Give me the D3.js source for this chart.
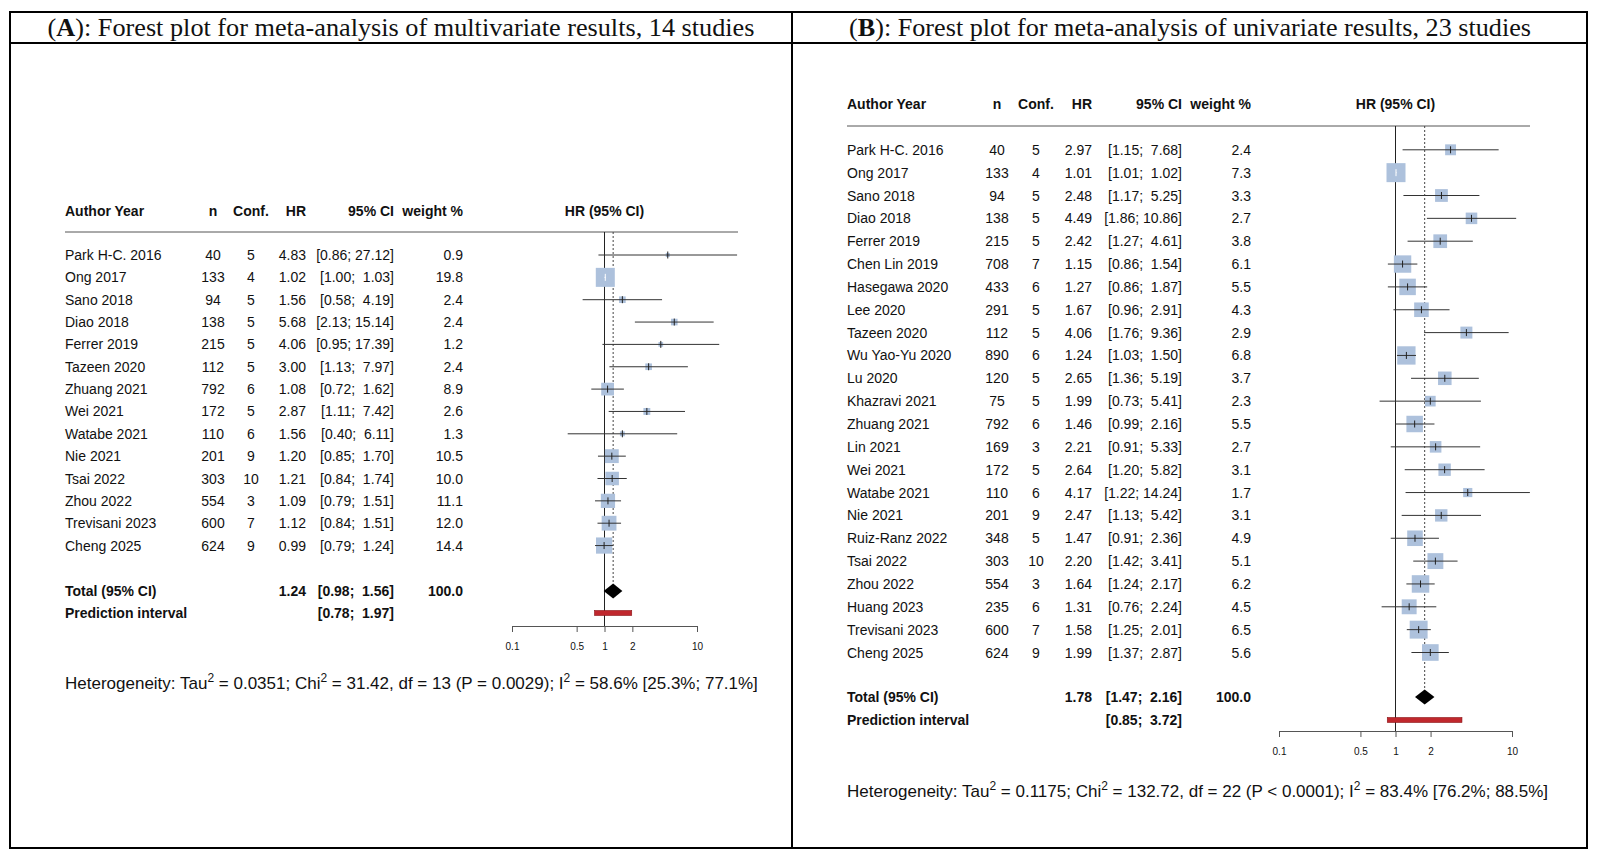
<!DOCTYPE html>
<html>
<head>
<meta charset="utf-8">
<script src="https://cdn.jsdelivr.net/npm/d3@7"></script>
<style>
body { margin: 0; background: #fff; }
svg text { font-family: "Liberation Sans", Arial, sans-serif; fill: #111; }
.pre { white-space: pre; }
</style>
</head>
<body>
<svg id="chart" width="1597" height="858"></svg>
<script>
//panel A: multivariate results
const studiesA = ["Park H-C. 2016", "Ong 2017", "Sano 2018", "Diao 2018", "Ferrer 2019", "Tazeen 2020", "Zhuang 2021",
	"Wei 2021", "Watabe 2021", "Nie 2021", "Tsai 2022", "Zhou 2022", "Trevisani 2023", "Cheng 2025"];
const nA = [40, 133, 94, 138, 215, 112, 792, 172, 110, 201, 303, 554, 600, 624];
const confA = [5, 4, 5, 5, 5, 5, 6, 5, 6, 9, 10, 3, 7, 9];
const hrA = [4.83, 1.02, 1.56, 5.68, 4.06, 3.00, 1.08, 2.87, 1.56, 1.20, 1.21, 1.09, 1.12, 0.99];
const lowerA = [0.86, 1.00, 0.58, 2.13, 0.95, 1.13, 0.72, 1.11, 0.40, 0.85, 0.84, 0.79, 0.84, 0.79];
const upperA = [27.12, 1.03, 4.19, 15.14, 17.39, 7.97, 1.62, 7.42, 6.11, 1.70, 1.74, 1.51, 1.51, 1.24];
const weightA = [0.9, 19.8, 2.4, 2.4, 1.2, 2.4, 8.9, 2.6, 1.3, 10.5, 10.0, 11.1, 12.0, 14.4];
const totalA = [1.24, 0.98, 1.56];
const predictionA = [0.78, 1.97];
const hetA = [["Heterogeneity: Tau", 0], ["2", 1], [" = 0.0351; Chi", 0], ["2", 1], [" = 31.42, df = 13 (P = 0.0029); I", 0], ["2", 1], [" = 58.6% [25.3%; 77.1%]", 0]];

//panel B: univariate results
const studiesB = ["Park H-C. 2016", "Ong 2017", "Sano 2018", "Diao 2018", "Ferrer 2019", "Chen Lin 2019", "Hasegawa 2020",
	"Lee 2020", "Tazeen 2020", "Wu Yao-Yu 2020", "Lu 2020", "Khazravi 2021", "Zhuang 2021", "Lin 2021", "Wei 2021",
	"Watabe 2021", "Nie 2021", "Ruiz-Ranz 2022", "Tsai 2022", "Zhou 2022", "Huang 2023", "Trevisani 2023", "Cheng 2025"];
const nB = [40, 133, 94, 138, 215, 708, 433, 291, 112, 890, 120, 75, 792, 169, 172, 110, 201, 348, 303, 554, 235, 600, 624];
const confB = [5, 4, 5, 5, 5, 7, 6, 5, 5, 6, 5, 5, 6, 3, 5, 6, 9, 5, 10, 3, 6, 7, 9];
const hrB = [2.97, 1.01, 2.48, 4.49, 2.42, 1.15, 1.27, 1.67, 4.06, 1.24, 2.65, 1.99, 1.46, 2.21, 2.64, 4.17, 2.47, 1.47, 2.20, 1.64, 1.31, 1.58, 1.99];
const lowerB = [1.15, 1.01, 1.17, 1.86, 1.27, 0.86, 0.86, 0.96, 1.76, 1.03, 1.36, 0.73, 0.99, 0.91, 1.20, 1.22, 1.13, 0.91, 1.42, 1.24, 0.76, 1.25, 1.37];
const upperB = [7.68, 1.02, 5.25, 10.86, 4.61, 1.54, 1.87, 2.91, 9.36, 1.50, 5.19, 5.41, 2.16, 5.33, 5.82, 14.24, 5.42, 2.36, 3.41, 2.17, 2.24, 2.01, 2.87];
const weightB = [2.4, 7.3, 3.3, 2.7, 3.8, 6.1, 5.5, 4.3, 2.9, 6.8, 3.7, 2.3, 5.5, 2.7, 3.1, 1.7, 3.1, 4.9, 5.1, 6.2, 4.5, 6.5, 5.6];
const totalB = [1.78, 1.47, 2.16];
const predictionB = [0.85, 3.72];
const hetB = [["Heterogeneity: Tau", 0], ["2", 1], [" = 0.1175; Chi", 0], ["2", 1], [" = 132.72, df = 22 (P < 0.0001); I", 0], ["2", 1], [" = 83.4% [76.2%; 88.5%]", 0]];

const tickValues = [0.1, 0.5, 1, 2, 10];
const columnHeads = ["Author Year", "n", "Conf.", "HR", "95% CI", "weight %"];

const svg = d3.select("#chart");
svg.append("rect").attr("width", 1597).attr("height", 858).attr("fill", "#fff");

//outer frame, title row and divider
svg.append("rect").attr("x", 10).attr("y", 12).attr("width", 1577).attr("height", 836)
	.attr("fill", "none").attr("stroke", "#000").attr("stroke-width", 2);
svg.append("line").attr("x1", 10).attr("x2", 1587).attr("y1", 43).attr("y2", 43)
	.attr("stroke", "#000").attr("stroke-width", 2);
svg.append("line").attr("x1", 792).attr("x2", 792).attr("y1", 12).attr("y2", 848)
	.attr("stroke", "#000").attr("stroke-width", 2);

function title(letter, rest, cx, len){
	let t = svg.append("text").attr("x", cx).attr("y", 36)
		.attr("text-anchor", "middle")
		.attr("textLength", len).attr("lengthAdjust", "spacingAndGlyphs")
		.style("font-family", "'Liberation Serif', 'DejaVu Serif', serif").style("font-size", "25px");
	t.append("tspan").text("(");
	t.append("tspan").style("font-weight", "bold").text(letter);
	t.append("tspan").text(rest);
}
title("A", "): Forest plot for meta-analysis of multivariate results, 14 studies", 401, 707);
title("B", "): Forest plot for meta-analysis of univariate results, 23 studies", 1190, 682);

function ciString(lo, up, width){
	let u = up.toFixed(2);
	while (u.length < width) u = " " + u;
	return `[${lo.toFixed(2)}; ${u}]`;
}

function drawPanel(p){
	const g = svg.append("g");
	const x = d3.scaleLog().domain([0.1, 10]).range(p.xRange);
	const y = d3.scalePoint().domain(d3.range(p.studies.length)).range([p.row0, p.row0 + (p.studies.length - 1) * p.step]);
	const maxW = d3.max(p.weight);
	const side = w => p.maxSq * Math.sqrt(w / maxW);
	const upWidth = d3.max(p.upper, d => d.toFixed(2).length);

	//column headers
	const heads = g.append("g").style("font-weight", "bold").style("font-size", "14px");
	const headX = [p.authorX, p.nX, p.confX, p.hrX, p.ciX, p.wX];
	const headAnchor = ["start", "middle", "middle", "end", "end", "end"];
	columnHeads.forEach((h, i) => {
		heads.append("text").attr("x", headX[i]).attr("y", p.headY)
			.attr("text-anchor", headAnchor[i]).attr("dominant-baseline", "central").text(h);
	});
	heads.append("text").attr("x", x(1)).attr("y", p.headY).attr("text-anchor", "middle")
		.attr("dominant-baseline", "central").text("HR (95% CI)");
	g.append("line").attr("x1", p.authorX).attr("x2", p.lineEnd).attr("y1", p.lineY).attr("y2", p.lineY)
		.attr("stroke", "#555").attr("stroke-width", 1);

	//study rows
	const rows = g.selectAll(".row").data(p.studies).join("g").attr("class", "row")
		.style("font-size", "14px");
	rows.append("text").attr("x", p.authorX).attr("y", (d, i) => y(i)).attr("dominant-baseline", "central").text(d => d);
	rows.append("text").attr("x", p.nX).attr("y", (d, i) => y(i)).attr("text-anchor", "middle")
		.attr("dominant-baseline", "central").text((d, i) => p.n[i]);
	rows.append("text").attr("x", p.confX).attr("y", (d, i) => y(i)).attr("text-anchor", "middle")
		.attr("dominant-baseline", "central").text((d, i) => p.conf[i]);
	rows.append("text").attr("x", p.hrX).attr("y", (d, i) => y(i)).attr("text-anchor", "end")
		.attr("dominant-baseline", "central").text((d, i) => p.hr[i].toFixed(2));
	rows.append("text").attr("class", "pre").attr("x", p.ciX).attr("y", (d, i) => y(i)).attr("text-anchor", "end")
		.attr("dominant-baseline", "central").text((d, i) => ciString(p.lower[i], p.upper[i], upWidth));
	rows.append("text").attr("x", p.wX).attr("y", (d, i) => y(i)).attr("text-anchor", "end")
		.attr("dominant-baseline", "central").text((d, i) => p.weight[i].toFixed(1));

	//reference lines
	g.append("line").attr("x1", x(1)).attr("x2", x(1)).attr("y1", p.lineY).attr("y2", p.axisY)
		.attr("stroke", "#222").attr("stroke-width", 1);
	g.append("line").attr("x1", x(p.total[0])).attr("x2", x(p.total[0]))
		.attr("y1", p.lineY).attr("y2", p.totalY - 7)
		.attr("stroke", "#444").attr("stroke-width", 1).attr("stroke-dasharray", "2,2");

	//squares and confidence intervals
	const marks = g.selectAll(".mark").data(p.studies).join("g").attr("class", "mark");
	marks.append("rect")
		.attr("x", (d, i) => x(p.hr[i]) - side(p.weight[i]) / 2)
		.attr("y", (d, i) => y(i) - side(p.weight[i]) / 2)
		.attr("width", (d, i) => side(p.weight[i]))
		.attr("height", (d, i) => side(p.weight[i]))
		.attr("fill", "#adc1dc");
	const inside = i => x(p.lower[i]) > x(p.hr[i]) - side(p.weight[i]) / 2 && x(p.upper[i]) < x(p.hr[i]) + side(p.weight[i]) / 2;
	marks.append("line")
		.attr("x1", (d, i) => x(p.lower[i])).attr("x2", (d, i) => x(p.upper[i]))
		.attr("y1", (d, i) => y(i)).attr("y2", (d, i) => y(i))
		.attr("stroke", (d, i) => inside(i) ? "#fff" : "#333").attr("stroke-width", 1);
	marks.append("line")
		.attr("x1", (d, i) => x(p.hr[i])).attr("x2", (d, i) => x(p.hr[i]))
		.attr("y1", (d, i) => y(i) - 3.5).attr("y2", (d, i) => y(i) + 3.5)
		.attr("stroke", (d, i) => inside(i) ? "#fff" : "#222").attr("stroke-width", 1);

	//pooled estimate and prediction interval
	const bold = g.append("g").style("font-weight", "bold").style("font-size", "14px");
	bold.append("text").attr("x", p.authorX).attr("y", p.totalY).attr("dominant-baseline", "central").text("Total (95% CI)");
	bold.append("text").attr("x", p.hrX).attr("y", p.totalY).attr("text-anchor", "end")
		.attr("dominant-baseline", "central").text(p.total[0].toFixed(2));
	bold.append("text").attr("class", "pre").attr("x", p.ciX).attr("y", p.totalY).attr("text-anchor", "end")
		.attr("dominant-baseline", "central").text(ciString(p.total[1], p.total[2], upWidth));
	bold.append("text").attr("x", p.wX).attr("y", p.totalY).attr("text-anchor", "end")
		.attr("dominant-baseline", "central").text("100.0");
	bold.append("text").attr("x", p.authorX).attr("y", p.predY).attr("dominant-baseline", "central").text("Prediction interval");
	bold.append("text").attr("class", "pre").attr("x", p.ciX).attr("y", p.predY).attr("text-anchor", "end")
		.attr("dominant-baseline", "central").text(ciString(p.prediction[0], p.prediction[1], upWidth));

	const dh = 7.5;
	g.append("path")
		.attr("d", `M${x(p.total[1])},${p.totalY} L${x(p.total[0])},${p.totalY - dh} L${x(p.total[2])},${p.totalY} L${x(p.total[0])},${p.totalY + dh} Z`)
		.attr("fill", "#000");
	g.append("rect").attr("x", x(p.prediction[0])).attr("y", p.predY - 2.5)
		.attr("width", x(p.prediction[1]) - x(p.prediction[0])).attr("height", 5)
		.attr("fill", "#c0272d").attr("stroke", "#8a1518").attr("stroke-width", 0.6);

	//axis
	const axis = g.append("g").attr("transform", `translate(0,${p.axisY})`)
		.call(d3.axisBottom(x).tickValues(tickValues).tickFormat(d => d).tickSize(6).tickSizeOuter(0).tickPadding(11));
	axis.select(".domain").attr("stroke", "#555");
	axis.selectAll(".tick line").attr("stroke", "#555");
	axis.selectAll(".tick text").style("font-size", "10px").style("font-family", "'Liberation Sans', Arial, sans-serif").attr("fill", "#333");

	//heterogeneity line, baseline placed directly
	const het = g.append("text").attr("x", p.authorX).attr("y", p.hetY + 6)
		.style("font-size", "17px");
	p.het.forEach(([s, sup], k) => {
		if (sup) het.append("tspan").attr("dy", -7).style("font-size", "12px").text(s);
		else het.append("tspan").attr("dy", k ? 7 : 0).text(s);
	});
}

drawPanel({
	studies: studiesA, n: nA, conf: confA, hr: hrA, lower: lowerA, upper: upperA, weight: weightA,
	total: totalA, prediction: predictionA, het: hetA,
	authorX: 65, nX: 213, confX: 251, hrX: 306, ciX: 394, wX: 463,
	headY: 211, lineY: 232, lineEnd: 738, row0: 255, step: 22.35,
	totalY: 591, predY: 613, axisY: 626, hetY: 683,
	xRange: [512, 697], maxSq: 19
});

drawPanel({
	studies: studiesB, n: nB, conf: confB, hr: hrB, lower: lowerB, upper: upperB, weight: weightB,
	total: totalB, prediction: predictionB, het: hetB,
	authorX: 847, nX: 997, confX: 1036, hrX: 1092, ciX: 1182, wX: 1251,
	headY: 104, lineY: 126, lineEnd: 1530, row0: 149.8, step: 22.85,
	totalY: 697, predY: 720, axisY: 731, hetY: 791,
	xRange: [1279, 1512], maxSq: 19
});
</script>
</body>
</html>
